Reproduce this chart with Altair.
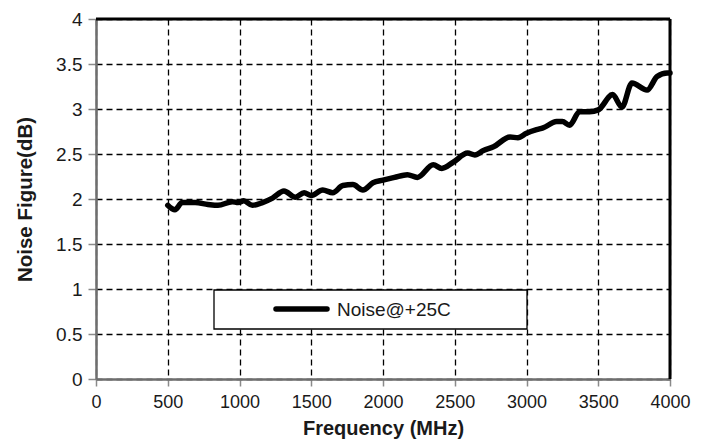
import altair as alt
import pandas as pd

# ---- data ----
freq_mhz = [500, 550, 600, 690, 780, 850, 950, 990, 1030, 1090, 1160, 1230, 1310,
            1390, 1450, 1500, 1580, 1650, 1720, 1790, 1860, 1930, 2000, 2080, 2170,
            2240, 2350, 2410, 2490, 2590, 2640, 2700, 2770, 2885, 2940, 3000, 3070,
            3115, 3210, 3250, 3300, 3370, 3440, 3500, 3600, 3665, 3735, 3840, 3910,
            3980, 4000]
noise_db = [1.93, 1.88, 1.96, 1.96, 1.94, 1.93, 1.97, 1.96, 1.98, 1.93, 1.96, 2.01, 2.09,
            2.02, 2.07, 2.04, 2.10, 2.07, 2.15, 2.16, 2.10, 2.18, 2.21, 2.24, 2.27,
            2.24, 2.38, 2.34, 2.41, 2.51, 2.49, 2.54, 2.58, 2.69, 2.68, 2.73, 2.77,
            2.79, 2.86, 2.86, 2.82, 2.97, 2.97, 2.99, 3.16, 3.02, 3.29, 3.21, 3.36,
            3.40, 3.40]
series_name = "Noise@+25C"
x_ticks = [0, 500, 1000, 1500, 2000, 2500, 3000, 3500, 4000]
y_ticks = [0, 0.5, 1, 1.5, 2, 2.5, 3, 3.5, 4]
x_title = "Frequency (MHz)"
y_title = "Noise Figure(dB)"

df = pd.DataFrame({"freq": freq_mhz, "nf": noise_db})
one = alt.Data(values=[{"label": series_name}])

W, H = 574, 360
FONT = "Liberation Sans"

axis_common = dict(
    grid=True, gridColor="black", gridDash=[6, 4], gridWidth=1.3,
    domainColor="#6e6e6e", domainWidth=2.5,
    tickColor="#8a8a8a", tickWidth=1.5,
    labelFont=FONT, labelColor="#1a1a1a", labelFlush=False,
    titleFont=FONT, titleFontWeight="bold", titleColor="#1a1a1a",
)

line = alt.Chart(df).mark_line(
    color="black", strokeWidth=5.5, interpolate="monotone",
    strokeCap="round", strokeJoin="round"
).encode(
    x=alt.X("freq:Q", scale=alt.Scale(domain=[0, 4000], nice=False),
            axis=alt.Axis(values=x_ticks, format="d", title=x_title,
                          tickSize=7, labelPadding=7, labelFontSize=18,
                          titleFontSize=20, titleBaseline="alphabetic", titleY=55,
                          **axis_common)),
    y=alt.Y("nf:Q", scale=alt.Scale(domain=[0, 4], nice=False),
            axis=alt.Axis(values=y_ticks, format="~g", title=y_title,
                          tickSize=8, labelPadding=6, labelFontSize=19,
                          titleFontSize=20.5, titleBaseline="middle", titleX=-71,
                          **axis_common)),
)

# decorative frame (top and right edges)
top_border = alt.Chart(one).mark_rule(color="black", strokeWidth=3).encode(
    x=alt.value(0), x2=alt.value(W), y=alt.value(0))
right_border = alt.Chart(one).mark_rule(color="black", strokeWidth=3).encode(
    x=alt.value(W), y=alt.value(0), y2=alt.value(H))

# legend box
leg_box = alt.Chart(one).mark_rect(fill="white", stroke="black", strokeWidth=1.3).encode(
    x=alt.value(118), x2=alt.value(431), y=alt.value(271), y2=alt.value(310))
leg_sym = alt.Chart(one).mark_rule(color="black", strokeWidth=5.5, strokeCap="round").encode(
    x=alt.value(180), x2=alt.value(231), y=alt.value(290))
leg_txt = alt.Chart(one).mark_text(
    align="left", baseline="middle", font=FONT, fontSize=19, color="#1a1a1a"
).encode(x=alt.value(241), y=alt.value(291), text="label:N")

chart = alt.layer(line, top_border, right_border, leg_box, leg_sym, leg_txt).properties(
    width=W, height=H, autosize="none",
    padding={"left": 96, "top": 19, "right": 39, "bottom": 60},
    background="white",
).configure_view(stroke=None)

chart.save("out.html", embed_options={"renderer": "svg", "actions": False})
